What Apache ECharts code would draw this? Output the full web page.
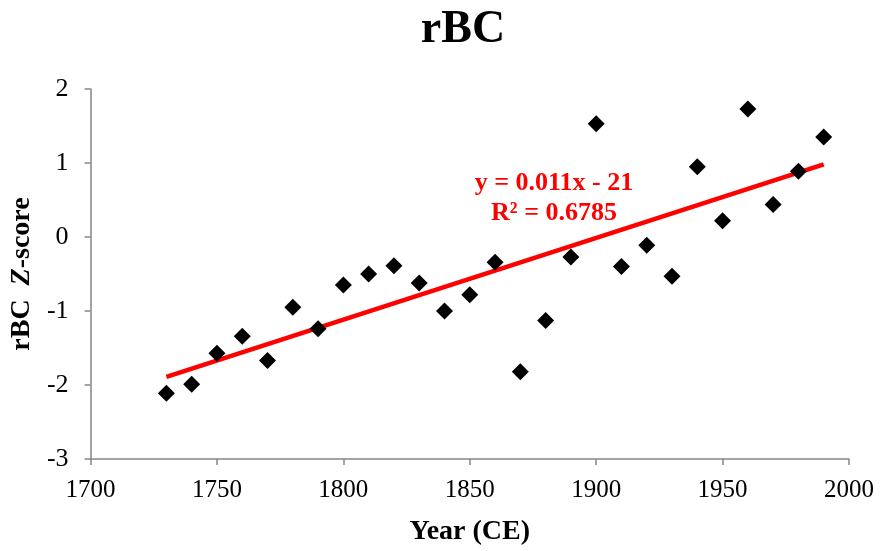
<!DOCTYPE html>
<html><head><meta charset="utf-8">
<script src="https://cdn.jsdelivr.net/npm/echarts@6/dist/echarts.min.js"></script>
<style>html,body{margin:0;padding:0;background:#fff}#c{width:880px;height:551px}</style>
</head><body><div id="c"></div>
<script>
const years = [1730,1740,1750,1760,1770,1780,1790,1800,1810,1820,1830,1840,1850,1860,1870,1880,1890,1900,1910,1920,1930,1940,1950,1960,1970,1980,1990];
const zscores = [-2.11,-1.99,-1.57,-1.34,-1.67,-0.95,-1.24,-0.65,-0.50,-0.39,-0.62,-1.00,-0.78,-0.34,-1.82,-1.13,-0.27,1.53,-0.40,-0.11,-0.53,0.95,0.22,1.73,0.44,0.89,1.35];
const trendX = [1730, 1990];
const trendY = [-1.89, 0.98];
const eqLine1 = 'y = 0.011x - 21';
const eqLine2 = 'R² = 0.6785';
const serif = '"Liberation Serif","Times New Roman",serif';

const chart = echarts.init(document.getElementById('c'));
chart.setOption({
  animation: false,
  backgroundColor: '#fff',
  title: {
    text: 'rBC', left: 458, top: 2, textAlign: 'center',
    textStyle: { fontFamily: serif, fontWeight: 'bold', fontSize: 46, color: '#000' }
  },
  grid: { left: 90, right: 31, top: 89, bottom: 92 },
  xAxis: {
    type: 'value', min: 1700, max: 2000, interval: 50,
    splitLine: { show: false },
    axisLine: { onZero: false, lineStyle: { color: '#868686', width: 1.5 } },
    axisTick: { show: true, length: 6, lineStyle: { color: '#868686', width: 1.5 } },
    axisLabel: { fontFamily: serif, fontSize: 25, color: '#000', margin: 19, formatter: v => String(v) },
    name: 'Year (CE)', nameLocation: 'middle', nameGap: 59,
    nameTextStyle: { fontFamily: serif, fontWeight: 'bold', fontSize: 28, color: '#000' }
  },
  yAxis: {
    type: 'value', min: -3, max: 2, interval: 1,
    splitLine: { show: false },
    axisLine: { show: true, onZero: false, lineStyle: { color: '#868686', width: 1.5 } },
    axisTick: { show: true, length: 6, lineStyle: { color: '#868686', width: 1.5 } },
    axisLabel: { fontFamily: serif, fontSize: 26, color: '#000', margin: 22 },
    name: '{n|rBC  }{i|Z}{n|-score}', nameLocation: 'middle', nameGap: 51,
    nameTextStyle: {
      rich: {
        n: { fontFamily: serif, fontWeight: 'bold', fontSize: 28, color: '#000' },
        i: { fontFamily: serif, fontWeight: 'bold', fontStyle: 'italic', fontSize: 28, color: '#000' }
      }
    }
  },
  series: [
    {
      type: 'line', data: trendX.map((x, i) => [x, trendY[i]]),
      symbol: 'none', lineStyle: { color: '#ff0000', width: 4.5 }, z: 2
    },
    {
      type: 'scatter', data: years.map((y, i) => [y, zscores[i]]),
      symbol: 'diamond', symbolSize: 17, itemStyle: { color: '#000', opacity: 1 }, z: 3
    }
  ],
  graphic: [
    { type: 'text', x: 554, y: 183, style: { text: eqLine1, font: 'bold 26px ' + serif, fill: '#ff0000', align: 'center', verticalAlign: 'middle' } },
    { type: 'text', x: 554, y: 213, style: { text: eqLine2, font: 'bold 26px ' + serif, fill: '#ff0000', align: 'center', verticalAlign: 'middle' } }
  ]
});
</script></body></html>
